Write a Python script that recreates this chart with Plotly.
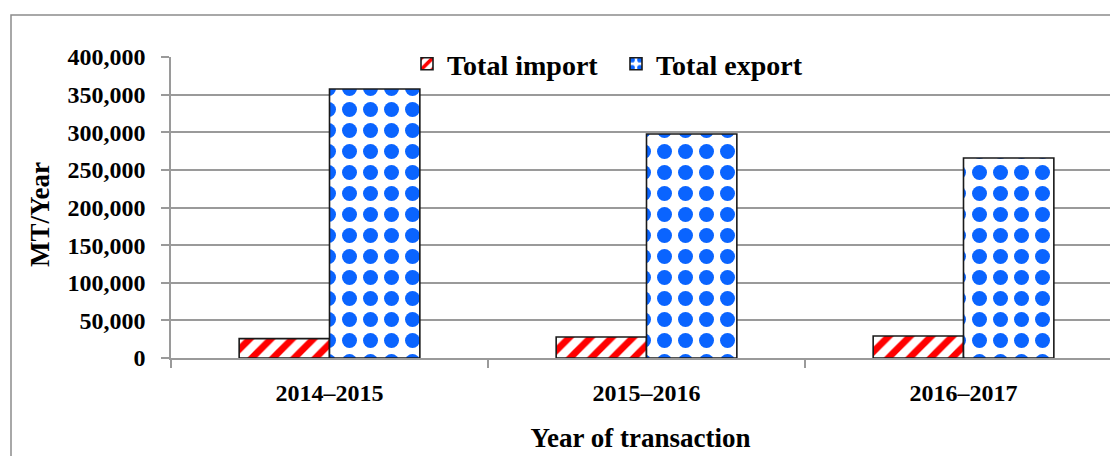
import plotly.graph_objects as go

categories = ["2014–2015", "2015–2016", "2016–2017"]
total_import = [25800, 27900, 29200]
total_export = [357500, 297700, 265800]
y_ticks = [0, 50000, 100000, 150000, 200000, 250000, 300000, 350000, 400000]

W, H = 1110, 456
ml, mr, mt, mb = 171, 0, 57, 98
pw, ph = W - ml - mr, H - mt - mb

FONT = "Liberation Serif"
GRID = "#9a9a9a"

fig = go.Figure()
fig.add_trace(go.Bar(
    name="Total import", x=categories, y=total_import,
    marker=dict(color="white",
                line=dict(color="#1a1a1a", width=1.6),
                pattern=dict(shape="/", fgcolor="#ff0000", bgcolor="white",
                             size=15, solidity=0.45, fillmode="overlay",
                             fgopacity=1)),
))
fig.add_trace(go.Bar(
    name="Total export", x=categories, y=total_export,
    marker=dict(color="white",
                line=dict(color="#1a1a1a", width=1.6),
                pattern=dict(shape=".", fgcolor="#0a64ff", bgcolor="white",
                             size=21, solidity=0.4, fillmode="overlay",
                             fgopacity=1)),
))

# outer frame
fig.add_shape(type="rect", xref="paper", yref="paper",
              x0=(11 - ml) / pw, x1=1.02,
              y0=-(mb + 10) / ph, y1=1 + (mt - 15) / ph,
              line=dict(color="#8c8c8c", width=1.5), fillcolor="rgba(0,0,0,0)",
              layer="below")

# y-axis title
fig.add_annotation(text="MT/Year", textangle=-90, showarrow=False,
                   xref="paper", yref="paper", x=0, xanchor="center",
                   xshift=40 - ml, y=1 - (215 - mt) / ph, yanchor="middle",
                   font=dict(family=FONT, size=27, color="#000000", weight="bold"))

fig.update_layout(
    width=W, height=H,
    margin=dict(l=ml, r=mr, t=mt, b=mb, pad=0),
    paper_bgcolor="white", plot_bgcolor="white",
    barmode="group", bargap=0.43, bargroupgap=0,
    font=dict(family=FONT, color="#000000", size=24, weight="bold"),
    showlegend=True,
    legend=dict(orientation="h", x=(616 - ml) / pw, xanchor="center",
                y=1 - (64 - mt) / ph, yanchor="middle",
                bgcolor="rgba(0,0,0,0)",
                font=dict(family=FONT, size=28, color="#000000", weight="bold"),
                itemwidth=30, tracegroupgap=0,
                entrywidth=164, entrywidthmode="pixels"),
)
fig.update_xaxes(
    range=[-0.5, -0.5 + pw / 317.0], fixedrange=True,
    showline=True, linecolor=GRID, linewidth=1.5,
    ticks="outside", tickson="boundaries", ticklen=8, tickcolor=GRID, tickwidth=1.5,
    showgrid=False, tickfont=dict(family=FONT, size=24, color="#000000", weight="bold"),
    ticklabelstandoff=12,
    title=dict(text="Year of transaction", standoff=24,
               font=dict(family=FONT, size=27, color="#000000", weight="bold")),
)
fig.update_yaxes(
    range=[0, 400000], tickvals=y_ticks, tickformat=",", fixedrange=True,
    showline=True, linecolor=GRID, linewidth=1.5,
    ticks="outside", ticklen=8, tickcolor=GRID, tickwidth=1.5,
    showgrid=True, gridcolor=GRID, gridwidth=1.5, zeroline=False,
    tickfont=dict(family=FONT, size=24, color="#000000", weight="bold"),
    ticklabelstandoff=11,
)

fig.write_html("out.html", config={"displayModeBar": False},
               post_script="document.body.style.margin='0';document.body.style.padding='0';")
